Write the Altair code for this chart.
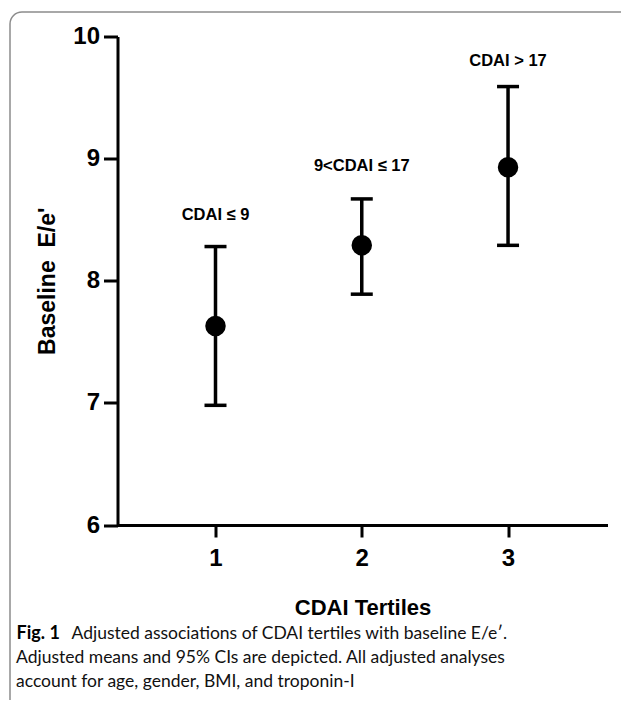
import altair as alt
import pandas as pd

# Data
tertiles = [1, 2, 3]
means = [7.63, 8.29, 8.93]
ci_low = [6.98, 7.89, 8.29]
ci_high = [8.28, 8.67, 9.59]
group_labels = ["CDAI \u2264 9", "9<CDAI \u2264 17", "CDAI > 17"]
label_y = [8.54, 8.94, 9.80]

caption_bold = "Fig. 1"
caption_lines = [
    "Adjusted associations of CDAI tertiles with baseline E/e\u2032.",
    "Adjusted means and 95% CIs are depicted. All adjusted analyses",
    "account for age, gender, BMI, and troponin-I",
]

df = pd.DataFrame({
    "tertile": tertiles,
    "mean": means,
    "lo": ci_low,
    "hi": ci_high,
    "label": group_labels,
    "ly": label_y,
})

FONT = "Liberation Sans"
CAP_FONT = "Lato"
W, H = 490, 488.5

xscale = alt.Scale(domain=[0.33, 3.68], nice=False, zero=False)
yscale = alt.Scale(domain=[6, 10], nice=False, zero=False)

base = alt.Chart(df)

x_enc = alt.X(
    "tertile:Q", scale=xscale,
    axis=alt.Axis(
        values=tertiles, format="d", title="CDAI Tertiles",
        grid=False, domainColor="black", domainWidth=3, tickColor="black",
        tickWidth=3, tickSize=12, labelFont=FONT, labelFontSize=24,
        labelFontWeight="bold", labelColor="black", labelPadding=9,
        titleFont=FONT, titleFontSize=22, titleFontWeight="bold",
        titleColor="black", titlePadding=27,
    ),
)
y_enc = alt.Y(
    "mean:Q", scale=yscale,
    axis=alt.Axis(
        values=[6, 7, 8, 9, 10], format="d", title="Baseline\u00a0 E/e'",
        grid=False, domainColor="black", domainWidth=3, tickColor="black",
        tickWidth=3, tickSize=14, labelFont=FONT, labelFontSize=24,
        labelFontWeight="bold", labelColor="black", labelPadding=4,
        titleFont=FONT, titleFontSize=23, titleFontWeight="bold",
        titleColor="black", titlePadding=13,
    ),
)

rules = base.mark_rule(color="black", strokeWidth=3.5, opacity=1).encode(
    x=x_enc, y=alt.Y("lo:Q", scale=yscale), y2="hi:Q"
)
cap_lo = base.mark_tick(color="black", thickness=3.5, size=22, orient="horizontal", opacity=1).encode(
    x=alt.X("tertile:Q", scale=xscale), y=alt.Y("lo:Q", scale=yscale)
)
cap_hi = base.mark_tick(color="black", thickness=3.5, size=22, orient="horizontal", opacity=1).encode(
    x=alt.X("tertile:Q", scale=xscale), y=alt.Y("hi:Q", scale=yscale)
)
points = base.mark_circle(color="black", size=420, opacity=1).encode(
    x=alt.X("tertile:Q", scale=xscale), y=y_enc
)
labels = base.mark_text(font=FONT, fontSize=16.5, fontWeight="bold", color="black").encode(
    x=alt.X("tertile:Q", scale=xscale), y=alt.Y("ly:Q", scale=yscale), text="label:N"
)

# decorative frame around the figure
frame = alt.Chart(pd.DataFrame({"a": [0]})).mark_rect(
    fill=None, stroke="#8c8c8c", strokeWidth=1.5, cornerRadius=12
).encode(
    x=alt.value(-107.5), x2=alt.value(700), y=alt.value(-24.5), y2=alt.value(720)
)

cap_df = pd.DataFrame({"t": [caption_bold]})
cap_bold = alt.Chart(cap_df).mark_text(
    font=CAP_FONT, fontSize=18, fontWeight="bold", align="left", baseline="middle", color="black"
).encode(x=alt.value(-101), y=alt.value(597.5), text="t:N")

cap_layers = []
cap_x = [-46, -101.5, -101.5]
cap_y = [597.5, 621.5, 645.5]
for i, line in enumerate(caption_lines):
    cap_layers.append(
        alt.Chart(pd.DataFrame({"t": [line]})).mark_text(
            font=CAP_FONT, fontSize=17.5, align="left", baseline="middle", color="#111111"
        ).encode(x=alt.value(cap_x[i]), y=alt.value(cap_y[i]), text="t:N")
    )

chart = alt.layer(frame, rules, cap_lo, cap_hi, points, labels, cap_bold, *cap_layers).properties(
    width=W, height=H,
    background="white",
    autosize=alt.AutoSizeParams(type="none"),
    padding={"left": 109.5, "top": 28.5, "right": 13.5, "bottom": 175},
).configure_view(strokeWidth=0, stroke=None)

chart.save("out.html", embed_options={"renderer": "svg", "actions": False})
